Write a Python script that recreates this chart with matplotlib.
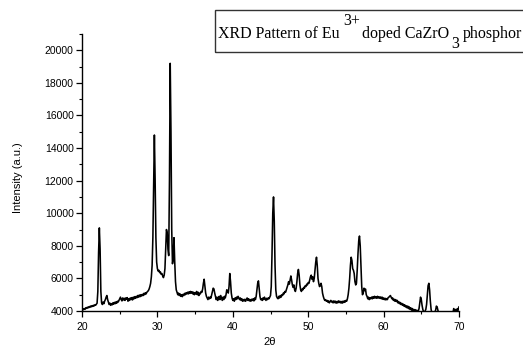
import numpy as np
import matplotlib
matplotlib.use("Agg")
import matplotlib.pyplot as plt
from matplotlib.patches import Rectangle
from matplotlib.ticker import MultipleLocator

# scan angles (2theta, 0.1 deg step) and intensities
scan_start = 20.0
scan_step = 0.1
intensity = [
    4050,4120,4080,4150,4100,4200,4160,4230,4190,4260,   # 20
    4220,4300,4250,4320,4280,4350,4310,4380,4350,4420,   # 21
    4480,5200,7600,9100,7800,5200,4500,4400,4550,4450,   # 22
    4600,4700,4850,4950,4700,4550,4400,4480,4350,4450,   # 23
    4380,4500,4420,4530,4450,4560,4480,4600,4550,4650,   # 24
    4750,4850,4700,4620,4800,4680,4780,4650,4800,4720,   # 25
    4820,4600,4750,4650,4800,4700,4820,4680,4850,4750,   # 26
    4880,4780,4900,4820,4950,4850,4980,4880,5000,4920,   # 27
    5020,4950,5080,5000,5120,5050,5150,5200,5250,5350,   # 28
    5500,5700,6100,6800,8500,11500,14800,12000,8500,7000,  # 29
    6600,6450,6500,6350,6400,6250,6300,6150,6050,6200,   # 30
    6600,7800,9000,8800,7800,7400,12000,19200,15000,9000,  # 31
    6900,7200,8500,7000,5800,5300,5150,5000,5100,4950,   # 32
    5050,4900,5000,4880,5020,4950,5080,5000,5120,5050,   # 33
    5150,5050,5180,5080,5200,5100,5180,5050,5150,5000,   # 34
    5120,5050,5200,5000,5150,4950,5100,5050,5200,5150,   # 35
    5350,5700,5950,5500,5100,4900,4800,4700,4850,4750,   # 36
    4850,4800,5000,5200,5400,5350,5100,4900,4700,4850,   # 37
    4650,4800,4900,4700,4950,4800,4650,4850,4700,4900,   # 38
    4800,5000,5300,5250,5100,5500,6300,5800,5100,4800,   # 39
    4650,4750,4600,4800,4700,4850,4750,4900,4800,4700,   # 40
    4800,4650,4750,4600,4700,4620,4720,4600,4700,4800,   # 41
    4650,4750,4620,4700,4600,4720,4650,4750,4620,4800,   # 42
    4700,4900,5300,5700,5850,5400,4900,4700,4750,4650,   # 43
    4800,4700,4850,4750,4650,4780,4700,4800,4750,4850,   # 44
    4950,5500,7500,10000,11000,9500,6800,5300,4900,4800, # 45
    4750,4900,4800,4950,4850,5000,4950,5100,5050,5200,   # 46
    5150,5300,5450,5600,5800,5650,5900,6150,5900,5600,   # 47
    5450,5600,5300,5200,5400,5800,6300,6550,6200,5600,   # 48
    5300,5200,5350,5300,5450,5400,5550,5500,5650,5600,   # 49
    5750,5700,5900,6100,6200,5950,6100,5800,6000,6500,   # 50
    7000,7300,6800,6000,5700,5500,5550,5700,5500,5100,   # 51
    4900,4750,4650,4700,4600,4650,4550,4620,4500,4580,   # 52
    4650,4550,4600,4500,4620,4520,4600,4480,4580,4500,   # 53
    4620,4520,4600,4500,4580,4480,4600,4520,4620,4550,   # 54
    4650,4600,4750,5000,5400,6000,6800,7300,7100,6600,   # 55
    6500,6300,5800,5600,5700,6500,7500,8300,8600,8000,   # 56
    6800,5500,5000,5100,5400,5250,5350,5000,4900,4750,   # 57
    4850,4700,4800,4750,4850,4750,4880,4780,4900,4800,   # 58
    4880,4780,4900,4800,4870,4780,4860,4750,4850,4720,   # 59
    4800,4700,4780,4680,4760,4700,4820,4850,4900,4950,   # 60
    4850,4750,4800,4650,4720,4600,4700,4580,4650,4500,   # 61
    4580,4450,4520,4400,4470,4350,4420,4300,4380,4250,   # 62
    4320,4200,4300,4150,4250,4100,4200,4050,4150,4020,   # 63
    4100,3980,4080,3950,4050,3950,4000,4150,4500,4850,   # 64
    4700,4350,4100,3950,3900,4000,4100,4400,5000,5550,   # 65
    5700,5300,4600,4100,3900,3850,3800,3900,3950,4050,   # 66
    4300,4250,4050,3900,3800,3750,3700,3700,3650,3700,   # 67
    3700,3650,3700,3750,3700,3650,3700,3750,3700,3750,   # 68
    3800,3750,3900,4150,3950,4000,4100,3950,4150,4050,   # 69
    4250,                                                # 70
]
two_theta = np.round(scan_start + scan_step * np.arange(len(intensity)), 1)

x_ticks = [20, 30, 40, 50, 60, 70]
y_ticks = [4000, 6000, 8000, 10000, 12000, 14000, 16000, 18000, 20000]

W, H = 523, 349
fig = plt.figure(figsize=(W / 100, H / 100), dpi=100)
ax = fig.add_axes([82 / W, 1 - 311 / H, (459 - 82) / W, (311 - 34) / H])

ax.plot(two_theta, intensity, color="black", lw=1.15)
ax.set_xlim(20, 70)
ax.set_ylim(4000, 21000)
ax.set_xticks(x_ticks)
ax.set_yticks(y_ticks)
ax.xaxis.set_minor_locator(MultipleLocator(5))
ax.yaxis.set_minor_locator(MultipleLocator(1000))
for s in ["top", "right"]:
    ax.spines[s].set_visible(False)
for s in ["left", "bottom"]:
    ax.spines[s].set_linewidth(1.0)
ax.tick_params(which="major", direction="out", length=4, width=0.9,
               labelsize=7.5, labelfontfamily="Liberation Sans")
ax.tick_params(axis="x", which="major", pad=4)
ax.tick_params(axis="y", which="major", pad=2)
ax.tick_params(which="minor", direction="out", length=2.5, width=0.8)

fig.text(18 / W, 1 - 178 / H, "Intensity (a.u.)", rotation=90,
         ha="center", va="center", fontsize=8, family="Liberation Sans")
fig.text(270 / W, 1 - 342 / H, "2θ", ha="center", va="center",
         fontsize=8, family="Liberation Sans")

# title box
fig.patches.append(Rectangle((215 / W, 1 - 52 / H), 320 / W, 42 / H,
                             transform=fig.transFigure, fill=False,
                             edgecolor="#333333", lw=1.0, clip_on=False))
fs = 11.5
ff = "Liberation Serif"
def ftxt(px, py, s):
    fig.text(px / W, 1 - py / H, s, ha="left", va="baseline",
             fontsize=fs, family=ff)
ftxt(218, 38, "XRD Pattern of Eu")
ftxt(343, 25, "3+")
ftxt(362, 38, "doped CaZrO")
ftxt(451, 48, "3")
ftxt(463, 38, "phosphor")

fig.savefig("out.png", dpi=100)
